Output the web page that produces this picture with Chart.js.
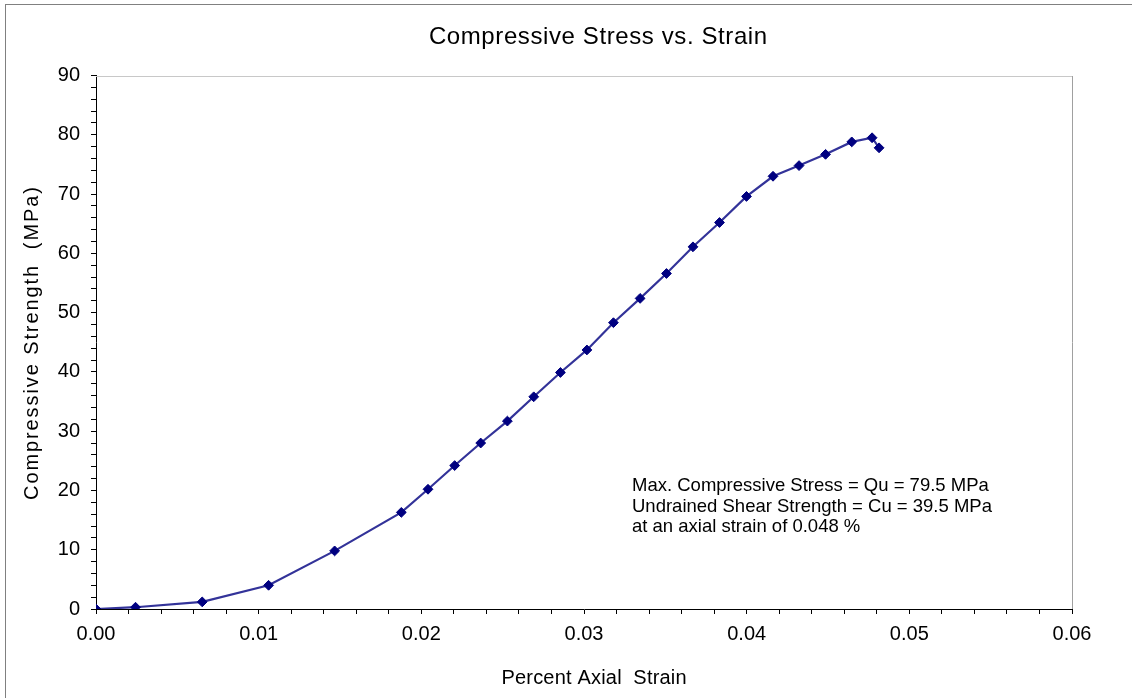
<!DOCTYPE html>
<html>
<head>
<meta charset="utf-8">
<script src="https://cdn.jsdelivr.net/npm/chart.js@4/dist/chart.umd.min.js"></script>
<style>
  html, body { margin: 0; padding: 0; background: #fff; }
  #wrap { width: 1132px; height: 698px; position: relative; }
</style>
</head>
<body>
<div id="wrap"><canvas id="c" width="1132" height="698"></canvas></div>
<script>
// ---- Data ----
const strain = [0, 0.00243, 0.00653, 0.01061, 0.01467, 0.01877, 0.02041, 0.02205, 0.02365, 0.02529,
                0.02691, 0.02855, 0.03018, 0.03181, 0.03345, 0.03507, 0.0367, 0.03833, 0.03999,
                0.04162, 0.04322, 0.04485, 0.04646, 0.04771, 0.04814];
const stress = [0, 0.3, 1.2, 4.0, 9.8, 16.3, 20.2, 24.2, 28.0, 31.7,
                35.8, 39.9, 43.7, 48.3, 52.4, 56.6, 61.1, 65.2, 69.6,
                73.0, 74.8, 76.7, 78.8, 79.5, 77.8];
const chartTitle = 'Compressive Stress vs. Strain';
const xTitle = 'Percent Axial  Strain';
const yTitle = 'Compressive Strength  (MPa)';
const noteLines = [
  'Max. Compressive Stress = Qu = 79.5 MPa',
  'Undrained Shear Strength = Cu = 39.5 MPa',
  'at an axial strain of 0.048 %'
];
const xMin = 0, xMax = 0.06, xMinorStep = 0.002;
const yMin = 0, yMax = 90, yMinorStep = 2;

const FONT = '"Liberation Sans", Arial, sans-serif';

const points = strain.map((x, i) => ({ x: x, y: stress[i] }));

function spacedText(ctx, text, x, y, spacing) {
  ctx.letterSpacing = spacing + 'px';
  const w = ctx.measureText(text).width;
  ctx.textAlign = 'left';
  ctx.fillText(text, x - (w - spacing) / 2, y);
  ctx.letterSpacing = '0px';
}

const decor = {
  id: 'decor',
  beforeDraw(chart) {
    const ctx = chart.ctx;
    ctx.save();
    ctx.fillStyle = '#fff';
    ctx.fillRect(0, 0, chart.width, chart.height);
    ctx.strokeStyle = '#808080';
    ctx.lineWidth = 1;
    ctx.strokeRect(5.5, 4.5, 1400, 900);
    ctx.restore();
  },
  beforeDatasetsDraw(chart) {
    const ctx = chart.ctx, a = chart.chartArea;
    ctx.save();
    ctx.lineWidth = 1;
    ctx.strokeStyle = '#c8c8c8';
    ctx.beginPath();
    ctx.moveTo(Math.round(a.left), Math.round(a.top) + 0.5);
    ctx.lineTo(Math.round(a.right), Math.round(a.top) + 0.5);
    ctx.stroke();
    ctx.strokeStyle = '#a0a0a0';
    ctx.beginPath();
    ctx.moveTo(Math.round(a.right) + 0.5, Math.round(a.top));
    ctx.lineTo(Math.round(a.right) + 0.5, Math.round(a.bottom));
    ctx.stroke();
    ctx.restore();
  },
  afterDraw(chart) {
    const ctx = chart.ctx;
    ctx.save();
    ctx.fillStyle = '#000';
    ctx.textBaseline = 'middle';
    // main title
    ctx.font = '24px ' + FONT;
    spacedText(ctx, chartTitle, 598, 37, 0.6);
    // x-axis title
    ctx.font = '20px ' + FONT;
    spacedText(ctx, xTitle, 594, 678, 0.2);
    // y-axis title (rotated)
    ctx.save();
    ctx.translate(32, 343.5);
    ctx.rotate(-Math.PI / 2);
    spacedText(ctx, yTitle, 0, 0, 1.9);
    ctx.restore();
    // annotation
    ctx.font = '18.5px ' + FONT;
    ctx.textAlign = 'left';
    ctx.textBaseline = 'alphabetic';
    noteLines.forEach((t, i) => ctx.fillText(t, 632, 491 + i * 20.5));
    ctx.restore();
  }
};

new Chart(document.getElementById('c'), {
  type: 'scatter',
  data: {
    datasets: [{
      label: 'Compressive stress',
      data: points,
      showLine: true,
      borderColor: '#333399',
      borderWidth: 2.2,
      pointStyle: 'rectRot',
      pointRadius: 4.9,
      pointBackgroundColor: '#000080',
      pointBorderColor: '#000080',
      pointBorderWidth: 1,
      tension: 0
    }]
  },
  options: {
    responsive: false,
    animation: false,
    devicePixelRatio: 1,
    layout: { padding: { left: 0, right: 60, top: 75.5, bottom: 0 } },
    plugins: {
      legend: { display: false },
      tooltip: { enabled: false },
      title: { display: false }
    },
    scales: {
      x: {
        type: 'linear',
        min: xMin, max: xMax,
        afterFit(s) { s.height = 89; },
        afterBuildTicks(s) {
          const t = [];
          for (let i = 0; i <= Math.round((xMax - xMin) / xMinorStep); i++) t.push({ value: +(xMin + i * xMinorStep).toFixed(4) });
          s.ticks = t;
        },
        border: { display: true, color: '#000', width: 1 },
        grid: { drawOnChartArea: false, drawTicks: true, tickLength: 5, color: '#000', tickColor: '#000' },
        ticks: {
          autoSkip: false,
          maxRotation: 0,
          padding: 8,
          color: '#000',
          font: { family: FONT, size: 20 },
          callback(v) {
            const k = v * 100;
            return Math.abs(k - Math.round(k)) < 1e-6 ? v.toFixed(2) : '';
          }
        },
        title: { display: false }
      },
      y: {
        type: 'linear',
        min: yMin, max: yMax,
        afterFit(s) { s.width = 96; },
        afterBuildTicks(s) {
          const t = [];
          for (let v = yMin; v <= yMax; v += yMinorStep) t.push({ value: v });
          s.ticks = t;
        },
        border: { display: true, color: '#000', width: 1 },
        grid: { drawOnChartArea: false, drawTicks: true, tickLength: 5, color: '#000', tickColor: '#000' },
        ticks: {
          autoSkip: false,
          padding: 11,
          color: '#000',
          font: { family: FONT, size: 20 },
          callback(v) { return v % 10 === 0 ? String(v) : ''; }
        },
        title: { display: false }
      }
    }
  },
  plugins: [decor]
});
</script>
</body>
</html>
